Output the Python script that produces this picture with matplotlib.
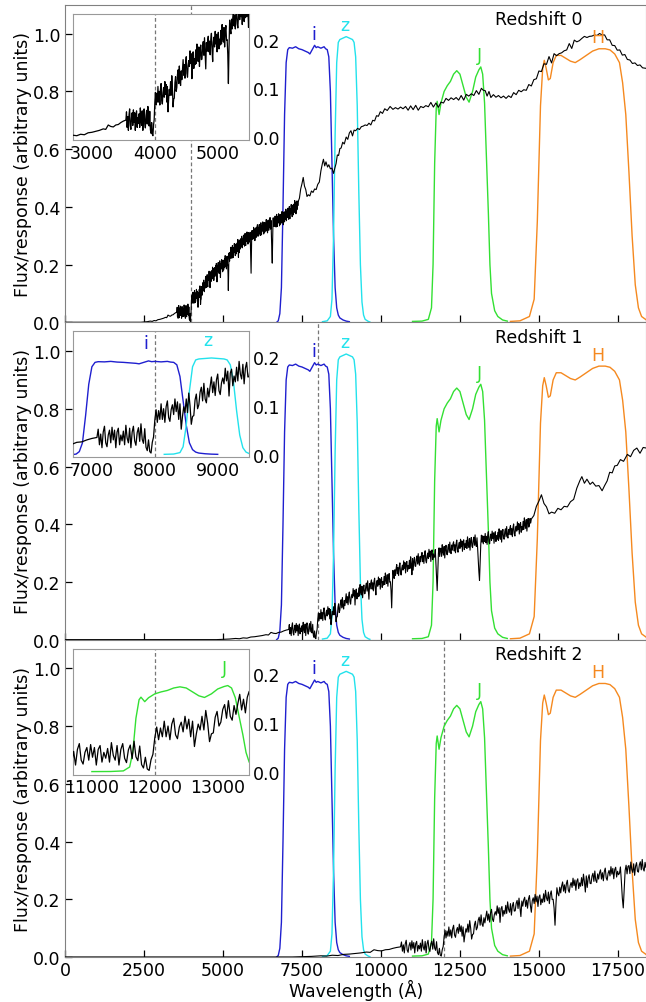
import numpy as np
import matplotlib
matplotlib.use("Agg")
import matplotlib.pyplot as plt

# ---------------- data ----------------
REDSHIFTS = [0, 1, 2]
BREAK_REST = 4000  # 4000 A break (rest frame)

# rest-frame galaxy spectrum: low-resolution blue part
BLUE_WL = [0, 2000, 2400, 2500, 2600, 2700, 2760, 2820, 2880, 2940, 3000, 3060, 3120,
           3180, 3220, 3260, 3300, 3340, 3380, 3420, 3460, 3500, 3540]
BLUE_FLUX = [0.0, 0.0, 0.0, 0.001, 0.002, 0.004, 0.003, 0.006, 0.005, 0.009, 0.010, 0.012, 0.014,
             0.017, 0.016, 0.025, 0.022, 0.021, 0.025, 0.026, 0.030, 0.033, 0.035]

# rest-frame galaxy spectrum: high-resolution part, 10 A sampling starting at 3550 A
HIRES_START = 3550
HIRES_STEP = 10
HIRES_FLUX = [
    0.052, 0.020, 0.042, 0.014, 0.046, 0.058, 0.024, 0.016, 0.040, 0.050,
    0.024, 0.056, 0.030, 0.050, 0.014, 0.046, 0.054, 0.020, 0.040, 0.028,
    0.048, 0.020, 0.060, 0.034, 0.024, 0.054, 0.014, 0.046, 0.058, 0.028,
    0.019, 0.045, 0.055, 0.027, 0.063, 0.031, 0.023, 0.053, 0.015, 0.008,
    0.030, 0.006, 0.003, 0.025, 0.036, 0.070, 0.092, 0.066, 0.090, 0.072,
    0.104, 0.072, 0.094, 0.066, 0.098, 0.110, 0.076, 0.068, 0.092, 0.102,
    0.082, 0.114, 0.088, 0.108, 0.072, 0.104, 0.052, 0.078, 0.098, 0.086,
    0.114, 0.086, 0.126, 0.100, 0.062, 0.078, 0.080, 0.112, 0.124, 0.094,
    0.102, 0.128, 0.138, 0.110, 0.146, 0.114, 0.106, 0.136, 0.118, 0.140,
    0.159, 0.127, 0.149, 0.121, 0.153, 0.165, 0.131, 0.123, 0.147, 0.157,
    0.145, 0.177, 0.151, 0.171, 0.120, 0.167, 0.175, 0.141, 0.161, 0.149,
    0.179, 0.151, 0.191, 0.165, 0.155, 0.185, 0.145, 0.177, 0.189, 0.159,
    0.160, 0.186, 0.196, 0.168, 0.204, 0.172, 0.140, 0.194, 0.176, 0.198,
    0.207, 0.175, 0.197, 0.169, 0.201, 0.213, 0.179, 0.155, 0.195, 0.205,
    0.185, 0.217, 0.191, 0.211, 0.175, 0.207, 0.215, 0.181, 0.201, 0.189,
    0.219, 0.191, 0.231, 0.205, 0.195, 0.225, 0.185, 0.217, 0.229, 0.199,
    0.200, 0.170, 0.110, 0.185, 0.240, 0.220, 0.212, 0.242, 0.222, 0.246,
    0.260, 0.228, 0.250, 0.222, 0.254, 0.266, 0.232, 0.224, 0.248, 0.258,
    0.241, 0.273, 0.247, 0.267, 0.231, 0.263, 0.271, 0.237, 0.257, 0.245,
    0.275, 0.247, 0.287, 0.261, 0.225, 0.281, 0.241, 0.273, 0.285, 0.255,
    0.254, 0.280, 0.290, 0.262, 0.298, 0.266, 0.258, 0.288, 0.270, 0.292,
    0.302, 0.270, 0.292, 0.264, 0.296, 0.308, 0.274, 0.266, 0.290, 0.300,
    0.281, 0.313, 0.287, 0.307, 0.271, 0.303, 0.311, 0.277, 0.297, 0.285,
    0.290, 0.312, 0.262, 0.205, 0.170, 0.238, 0.300, 0.318, 0.288, 0.314,
    0.317, 0.289, 0.329, 0.303, 0.293, 0.323, 0.283, 0.315, 0.327, 0.297,
    0.294, 0.320, 0.330, 0.302, 0.338, 0.306, 0.298, 0.328, 0.310, 0.332,
    0.339, 0.307, 0.329, 0.301, 0.333, 0.345, 0.311, 0.303, 0.327, 0.337,
    0.316, 0.348, 0.322, 0.342, 0.306, 0.338, 0.346, 0.312, 0.332, 0.320,
    0.344, 0.316, 0.356, 0.330, 0.320, 0.350, 0.310, 0.342, 0.354, 0.324,
    0.319, 0.345, 0.355, 0.327, 0.363, 0.331, 0.323, 0.353, 0.318, 0.275,
    0.235, 0.205, 0.268, 0.330, 0.362, 0.338, 0.360, 0.332, 0.358, 0.340,
    0.368, 0.336, 0.358, 0.330, 0.362, 0.374, 0.340, 0.332, 0.356, 0.366,
    0.344, 0.376, 0.350, 0.370, 0.334, 0.366, 0.374, 0.340, 0.360, 0.348,
    0.372, 0.344, 0.384, 0.358, 0.348, 0.378, 0.338, 0.370, 0.382, 0.352,
    0.348, 0.374, 0.384, 0.356, 0.392, 0.360, 0.352, 0.382, 0.364, 0.386,
    0.395, 0.363, 0.385, 0.357, 0.389, 0.401, 0.367, 0.359, 0.383, 0.393,
    0.376, 0.408, 0.382, 0.402, 0.366, 0.398, 0.406, 0.372, 0.392, 0.380,
    0.410, 0.382, 0.422, 0.396, 0.386, 0.416, 0.376, 0.408, 0.420, 0.390,
    0.398, 0.420, 0.404, 0.418,
]

# rest-frame galaxy spectrum: low-resolution red part
RED_WL = [7420, 7460, 7500, 7540, 7580, 7620, 7660, 7700, 7750, 7800, 7850, 7900, 7950, 8000,
          8050, 8100, 8150, 8180, 8220, 8260, 8310, 8350, 8400, 8450, 8500, 8540, 8580, 8620,
          8660, 8700, 8740, 8790, 8840, 8900, 8950, 9000, 9050, 9100, 9150, 9200, 9260, 9320,
          9380, 9440, 9500, 9560, 9620, 9680, 9740, 9800, 9860, 9920, 9980, 10050, 10120,
          10200, 10290, 10380, 10460, 10540, 10620, 10700, 10780, 10860, 10940, 11020, 11100,
          11180, 11260, 11340, 11420, 11500, 11580, 11660, 11740, 11820, 11900, 11980, 12060,
          12140, 12220, 12300, 12380, 12460, 12540, 12620, 12700, 12780, 12860, 12940, 13020,
          13100, 13180, 13240, 13300, 13360, 13420, 13480, 13560, 13640, 13720, 13800, 13880,
          13960, 14040, 14120, 14200, 14280, 14360, 14440, 14520, 14600, 14680, 14760, 14840,
          14920, 15000, 15080, 15160, 15240, 15320, 15400, 15480, 15560, 15640, 15720, 15800,
          15880, 15960, 16040, 16120, 16200, 16280, 16360, 16440, 16520, 16600, 16680, 16760,
          16840, 16920, 17000, 17080, 17160, 17240, 17320, 17400, 17480, 17560, 17640, 17720,
          17800, 17880, 17960, 18040, 18120, 18200, 18280, 18400]
RED_FLUX = [0.430, 0.462, 0.480, 0.502, 0.472, 0.460, 0.436, 0.442, 0.438, 0.455, 0.450, 0.462,
            0.460, 0.478, 0.486, 0.525, 0.552, 0.565, 0.542, 0.556, 0.538, 0.546, 0.532, 0.534,
            0.516, 0.534, 0.550, 0.580, 0.578, 0.602, 0.604, 0.624, 0.618, 0.642, 0.634, 0.656,
            0.664, 0.646, 0.666, 0.664, 0.672, 0.668, 0.678, 0.680, 0.684, 0.682, 0.690, 0.684,
            0.700, 0.698, 0.716, 0.714, 0.730, 0.724, 0.740, 0.734, 0.748, 0.738, 0.744, 0.739,
            0.746, 0.740, 0.748, 0.735, 0.750, 0.737, 0.752, 0.735, 0.748, 0.744, 0.751, 0.747,
            0.762, 0.746, 0.760, 0.745, 0.763, 0.760, 0.776, 0.769, 0.778, 0.772, 0.779, 0.770,
            0.786, 0.770, 0.790, 0.784, 0.792, 0.786, 0.803, 0.790, 0.811, 0.804, 0.803, 0.784,
            0.800, 0.779, 0.789, 0.780, 0.786, 0.778, 0.784, 0.776, 0.785, 0.779, 0.796, 0.789,
            0.804, 0.799, 0.806, 0.804, 0.824, 0.819, 0.841, 0.844, 0.871, 0.869, 0.896, 0.894,
            0.921, 0.899, 0.931, 0.924, 0.931, 0.934, 0.941, 0.944, 0.966, 0.949, 0.978, 0.972,
            0.976, 0.984, 0.991, 0.987, 0.991, 0.992, 0.996, 0.994, 1.001, 0.996, 0.996, 0.979,
            0.979, 0.960, 0.959, 0.943, 0.944, 0.926, 0.928, 0.911, 0.909, 0.897, 0.899, 0.890,
            0.892, 0.882, 0.880]

# filter transmission curves (observed frame)
FILTER_NAMES = ["i", "z", "J", "H"]
FILTER_COLORS = ["#1f1fcf", "#22e2ec", "#33e033", "#f5891f"]
I_WL = [6700, 6750, 6800, 6850, 6900, 6950, 7000, 7050, 7100, 7200, 7300, 7400, 7500, 7600, 7700,
        7750, 7800, 7850, 7900, 7950, 8000, 8100, 8200, 8250, 8300, 8350, 8400, 8450, 8500, 8550,
        8600, 8650, 8700, 8800, 8900, 9000]
I_RESP = [0.0, 0.005, 0.03, 0.12, 0.40, 0.72, 0.90, 0.945, 0.952, 0.95, 0.955, 0.948, 0.945, 0.94,
          0.935, 0.93, 0.94, 0.95, 0.96, 0.952, 0.955, 0.95, 0.955, 0.948, 0.945, 0.92, 0.80, 0.55,
          0.30, 0.12, 0.05, 0.025, 0.015, 0.008, 0.004, 0.002]
Z_WL = [8150, 8300, 8400, 8450, 8500, 8550, 8600, 8650, 8700, 8800, 8900, 9000, 9100, 9150, 9200,
        9250, 9300, 9350, 9400, 9450, 9500, 9600, 9650]
Z_RESP = [0.002, 0.005, 0.02, 0.08, 0.30, 0.65, 0.90, 0.97, 0.98, 0.985, 0.99, 0.985, 0.98, 0.97,
          0.92, 0.75, 0.45, 0.20, 0.07, 0.025, 0.01, 0.003, 0.001]
J_WL = [11000, 11300, 11500, 11600, 11650, 11700, 11750, 11780, 11840, 11900, 12000, 12100, 12200,
        12300, 12400, 12500, 12600, 12700, 12790, 12900, 13000, 13100, 13160, 13220, 13280, 13330,
        13400, 13450, 13500, 13600, 13700, 13850, 14000]
J_RESP = [0.003, 0.004, 0.01, 0.05, 0.2, 0.55, 0.74, 0.766, 0.72, 0.76, 0.80, 0.82, 0.835, 0.86,
          0.872, 0.86, 0.82, 0.78, 0.763, 0.80, 0.85, 0.875, 0.885, 0.86, 0.76, 0.6, 0.38, 0.2, 0.1,
          0.04, 0.02, 0.008, 0.004]
H_WL = [14100, 14400, 14700, 14850, 14950, 15050, 15120, 15170, 15230, 15300, 15360, 15450, 15550,
        15700, 15850, 16000, 16150, 16300, 16500, 16700, 16900, 17100, 17250, 17400, 17550, 17650,
        17750, 17850, 17950, 18050, 18150, 18250, 18400]
H_RESP = [0.003, 0.005, 0.02, 0.08, 0.35, 0.75, 0.88, 0.908, 0.88, 0.84, 0.845, 0.9, 0.925, 0.925,
          0.915, 0.905, 0.9, 0.91, 0.925, 0.94, 0.948, 0.948, 0.944, 0.93, 0.9, 0.83, 0.72, 0.52, 0.3,
          0.13, 0.05, 0.02, 0.008]
FILTER_WL = [I_WL, Z_WL, J_WL, H_WL]
FILTER_RESP = [I_RESP, Z_RESP, J_RESP, H_RESP]

X_TICKS = [0, 2500, 5000, 7500, 10000, 12500, 15000, 17500]
Y_TICKS = [0.0, 0.2, 0.4, 0.6, 0.8, 1.0]
INSET_Y_TICKS = [0.0, 0.1, 0.2]
INSET_FILTER_SCALE = 0.2

# ---------------- assemble spectrum ----------------
hires_wl = HIRES_START + HIRES_STEP * np.arange(len(HIRES_FLUX))
spec_wl = np.concatenate([BLUE_WL, hires_wl, RED_WL]).astype(float)
spec_flux = np.concatenate([BLUE_FLUX, HIRES_FLUX, RED_FLUX]).astype(float)

# ---------------- figure ----------------
FS = 12.5
SPINE = "#808080"
fig = plt.figure(figsize=(6.46, 10.03), dpi=100)
left = 65 / 646
width = 1.0 - left + 0.0005
h = 0.3164
bottoms = [0.6777, 0.3613, 0.0449]

for k, z in enumerate(REDSHIFTS):
    ax = fig.add_axes([left, bottoms[k], width, h])
    obs = spec_wl * (1 + z)
    brk = BREAK_REST * (1 + z)
    ax.plot(obs, spec_flux, color="black", lw=0.8, zorder=3)
    for name, col, fw, fr in zip(FILTER_NAMES, FILTER_COLORS, FILTER_WL, FILTER_RESP):
        fr = np.asarray(fr)
        ax.plot(fw, fr, color=col, lw=1.0, zorder=2)
        j = int(np.argmax(fr))
        ax.text(fw[j] - 40, fr[j] + 0.04, name, color=col, ha="center", va="center",
                fontsize=FS)
    ax.axvline(brk, color="#777777", ls=(0, (3, 2)), lw=0.9, zorder=1)
    ax.text(15000, 1.05, f"Redshift {z}", ha="center", va="center", fontsize=FS)
    ax.set_xlim(0, 18400)
    ax.set_ylim(0, 1.1)
    ax.set_xticks(X_TICKS)
    ax.set_yticks(Y_TICKS)
    ax.tick_params(direction="in", labelsize=FS, length=5, width=0.9, pad=3)
    if k < 2:
        ax.tick_params(labelbottom=False)
    else:
        ax.set_xlabel("Wavelength (Å)", fontsize=FS, labelpad=0)
    ax.set_ylabel("Flux/response (arbitrary units)", fontsize=FS, labelpad=1)
    for s in ax.spines.values():
        s.set_color(SPINE)

    # inset
    ins = ax.inset_axes([0.0138, 0.574, 0.303, 0.398])
    x0, x1 = brk - 1300, brk + 1500
    m = (obs >= x0 - 50) & (obs <= x1 + 50)
    ins.plot(obs[m], spec_flux[m], color="black", lw=0.9, zorder=3)
    for name, col, fw, fr in zip(FILTER_NAMES, FILTER_COLORS, FILTER_WL, FILTER_RESP):
        fr = np.asarray(fr) * INSET_FILTER_SCALE
        fw = np.asarray(fw)
        if fw.max() < x0 or fw.min() > x1:
            continue
        ins.plot(fw, fr, color=col, lw=1.0, zorder=2)
        j = int(np.argmax(fr))
        if x0 < fw[j] < x1:
            ins.text(fw[j] - 50, fr[j] + 0.037, name, color=col, ha="center", va="center",
                     fontsize=FS)
    ins.axvline(brk, color="#777777", ls=(0, (3, 2)), lw=0.9, zorder=1)
    ins.set_xlim(x0, x1)
    ins.set_ylim(-0.006, 0.253)
    ins.set_xticks([t for t in range(0, 20000, 1000) if x0 < t < x1])
    ins.set_yticks(INSET_Y_TICKS)
    ins.yaxis.tick_right()
    ins.tick_params(labelsize=FS, length=0, pad=2.5)
    for s in ins.spines.values():
        s.set_color("#999999")

fig.savefig("out.png", dpi=100)
